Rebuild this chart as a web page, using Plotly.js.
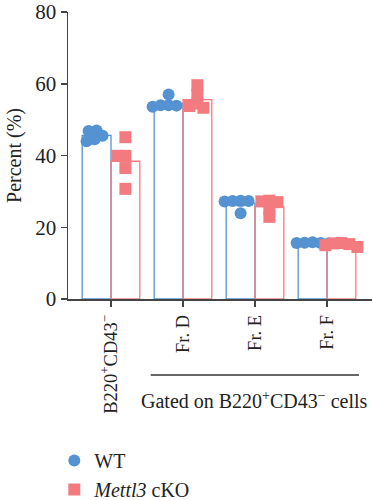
<!DOCTYPE html>
<html><head><meta charset="utf-8">
<script src="https://cdn.plot.ly/plotly-3.0.1.min.js"></script>
<style>html,body{margin:0;padding:0;background:#fff}#chart{width:373px;height:500px}</style>
</head><body><div id="chart"></div>
<script>
var categories = ["B220<sup>+</sup>CD43<sup>−</sup>", "Fr. D", "Fr. E", "Fr. F"];
var wtMean = [45.6, 54.5, 26.7, 15.6];
var koMean = [38.4, 55.6, 25.8, 15.2];
var wtSem = [0.6, 0.6, 0.7, 0.1];
var koSem = [2.3, 1.1, 0.9, 0.3];
var wtPoints = [[47.0, 46.8, 45.5, 44.5, 44.0], [57.0, 54.0, 54.0, 53.9, 53.6], [27.4, 27.3, 27.3, 27.2, 23.9], [15.8, 15.7, 15.6, 15.6, 15.5]];
var koPoints = [[45.1, 39.9, 39.9, 36.5, 30.7], [59.6, 56.9, 54.5, 53.8, 53.3], [27.4, 27.2, 27.0, 25.0, 22.9], [15.6, 15.5, 15.3, 15.0, 14.5]];
var yTicks = [0, 20, 40, 60, 80];

var BLUE = "#5592d2", RED = "#f37b80";
var xIdx = categories.map(function(_, i){ return i; });

// simple beeswarm in pixel space
var pxPerX = 72, pxPerY = 287 / 80, minDist = 7;
function swarm(vals, center) {
  var placed = [], xs = [];
  vals.forEach(function(v) {
    var cands = [0];
    for (var k = 1; k < 30; k++) { cands.push(-k * 2); cands.push(k * 2); }
    var chosen = 0;
    for (var c = 0; c < cands.length; c++) {
      var ok = placed.every(function(p) {
        var dx = cands[c] - p[0], dy = (v - p[1]) * pxPerY;
        return Math.sqrt(dx * dx + dy * dy) >= minDist;
      });
      if (ok) { chosen = cands[c]; break; }
    }
    placed.push([chosen, v]);
    xs.push(center + chosen / pxPerX);
  });
  return xs;
}
function pointsTrace(groups, off, name, color, symbol) {
  var xs = [], ys = [];
  groups.forEach(function(g, i) {
    var sx = swarm(g, i + off);
    xs = xs.concat(sx); ys = ys.concat(g);
  });
  return {type: "scatter", mode: "markers", x: xs, y: ys, name: name,
    marker: {color: color, size: 12, symbol: symbol}, showlegend: true, hoverinfo: "y"};
}

var data = [
  {type: "bar", x: xIdx, y: wtMean, name: "WT", showlegend: false,
   marker: {color: "rgba(255,255,255,0)", line: {color: BLUE, width: 1.3}},
   error_y: {type: "data", array: wtSem, color: BLUE, thickness: 1.3, width: 4}},
  {type: "bar", x: xIdx, y: koMean, name: "cKO", showlegend: false,
   marker: {color: "rgba(255,255,255,0)", line: {color: RED, width: 1.3}},
   error_y: {type: "data", array: koSem, color: RED, thickness: 1.3, width: 4}},
  pointsTrace(wtPoints, -0.2, "WT", BLUE, "circle"),
  pointsTrace(koPoints, 0.2, "<i>Mettl3</i> cKO", RED, "square")
];

var layout = {
  width: 373, height: 500,
  margin: {l: 68, r: 1, t: 12, b: 201, autoexpand: false},
  paper_bgcolor: "#fff", plot_bgcolor: "#fff",
  font: {family: "Liberation Serif, DejaVu Serif, serif", color: "#222", size: 19},
  barmode: "group", bargap: 0.2, bargroupgap: 0,
  xaxis: {range: [-0.597, 3.625], tickvals: xIdx, ticktext: categories, tickangle: -90,
    automargin: false,
    showgrid: false, zeroline: false, showline: true, linecolor: "#444", linewidth: 1.5,
    ticks: "outside", ticklen: 6, tickwidth: 1.5, tickcolor: "#444",
    ticklabelstandoff: 1, tickfont: {size: 18.5}},
  yaxis: {range: [0, 80], tickvals: yTicks, showgrid: false, zeroline: false, automargin: false,
    showline: true, linecolor: "#444", linewidth: 1.5,
    ticks: "outside", ticklen: 6, tickwidth: 1.5, tickcolor: "#444",
    tickfont: {size: 21}, title: {text: "Percent (%)", font: {size: 20}, standoff: 8}},
  legend: {x: -0.045, y: -0.495, xanchor: "left", yanchor: "top", font: {size: 20},
    bgcolor: "rgba(0,0,0,0)", tracegroupgap: 0, itemsizing: "constant"},
  shapes: [{type: "line", xref: "paper", yref: "paper", x0: 0.272, x1: 0.957, y0: -0.265, y1: -0.265,
    line: {color: "#333", width: 1.5}}],
  annotations: [{xref: "paper", yref: "paper", x: 0.615, y: -0.302, xanchor: "center", yanchor: "top",
    showarrow: false, text: "Gated on B220<sup>+</sup>CD43<sup>−</sup> cells", font: {size: 20}}]
};

Plotly.newPlot("chart", data, layout, {displayModeBar: false, staticPlot: true});
</script></body></html>
